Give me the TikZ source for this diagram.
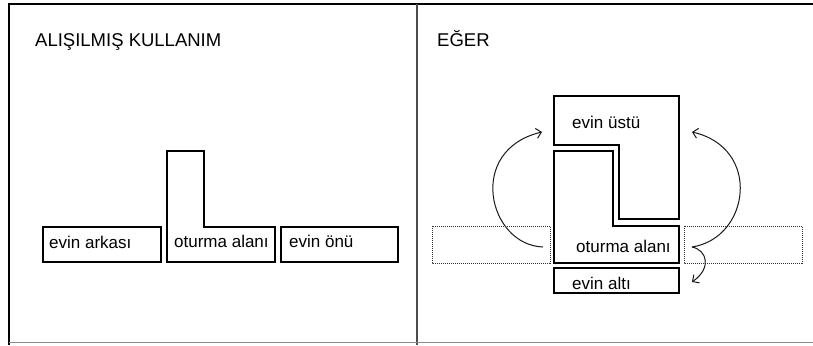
\documentclass[tikz,border=0pt]{standalone}
\usepackage{fontspec}
\setmainfont{Liberation Sans}
\usetikzlibrary{arrows.meta}
\begin{document}
\begin{tikzpicture}[x=1pt,y=-1pt,
  box/.style={draw=black,line width=1.3pt},
  lbl/.style={anchor=base west,inner sep=0pt,font=\fontsize{17}{18}\selectfont},
  ttl/.style={anchor=base west,inner sep=0pt,font=\fontsize{18.5}{20}\selectfont},
  ghost/.style={draw=black!80,dash pattern=on 1pt off 1pt,line width=1pt},
  flow/.style={line width=1pt,draw=black!90,-{Straight Barb[length=5pt,width=10pt]}}]
\useasboundingbox (0,0) rectangle (813,345);
% frame
\draw[line width=1.5pt] (9,345) -- (9,4) -- (813,4);
\draw[line width=2pt,black!70] (416.5,4) -- (416.5,345);
\draw[line width=1pt,black!45] (9,342) -- (813,342);
% left panel
\node[ttl] (t1) at (35,47) {ALIŞILMIŞ KULLANIM};
\draw[box] (43,227) rectangle (161,262);
\node[lbl] (arka) at (49,248) {evin arkası};
\draw[box] (167,151) -- (204,151) -- (204,227) -- (275,227) -- (275,262) -- (167,262) -- cycle;
\node[lbl] (otur1) at (174,247) {oturma alanı};
\draw[box] (281,227) rectangle (398,262);
\node[lbl] (onu) at (289,247) {evin önü};
% right panel
\node[ttl] (t2) at (437,47) {EĞER};
\draw[ghost] (432,226) rectangle (550,263);
\draw[ghost] (684,226) rectangle (802,263);
\draw[box] (554,96) -- (679,96) -- (679,219) -- (619,219) -- (619,145) -- (554,145) -- cycle;
\node[lbl] (ustu) at (572,128) {evin üstü};
\draw[box] (554,151) -- (613,151) -- (613,226) -- (679,226) -- (679,263) -- (554,263) -- cycle;
\node[lbl] (otur2) at (576,252) {oturma alanı};
\draw[box] (554,268) rectangle (679,293);
\node[lbl] (alti) at (572,289) {evin altı};
% arrows
\coordinate (ls) at (543,247);
\coordinate (le) at (542,132);
\coordinate (cusp) at (692,247);
\coordinate (re) at (692,132);
\coordinate (rb) at (692,282);
\draw[flow] (ls) .. controls (488,245) and (466,150) .. (le);
\draw[flow] (cusp) .. controls (750,238) and (762,148) .. (re);
\draw[flow] (cusp) .. controls (707,250) and (712,268) .. (rb);
\end{tikzpicture}
\end{document}
